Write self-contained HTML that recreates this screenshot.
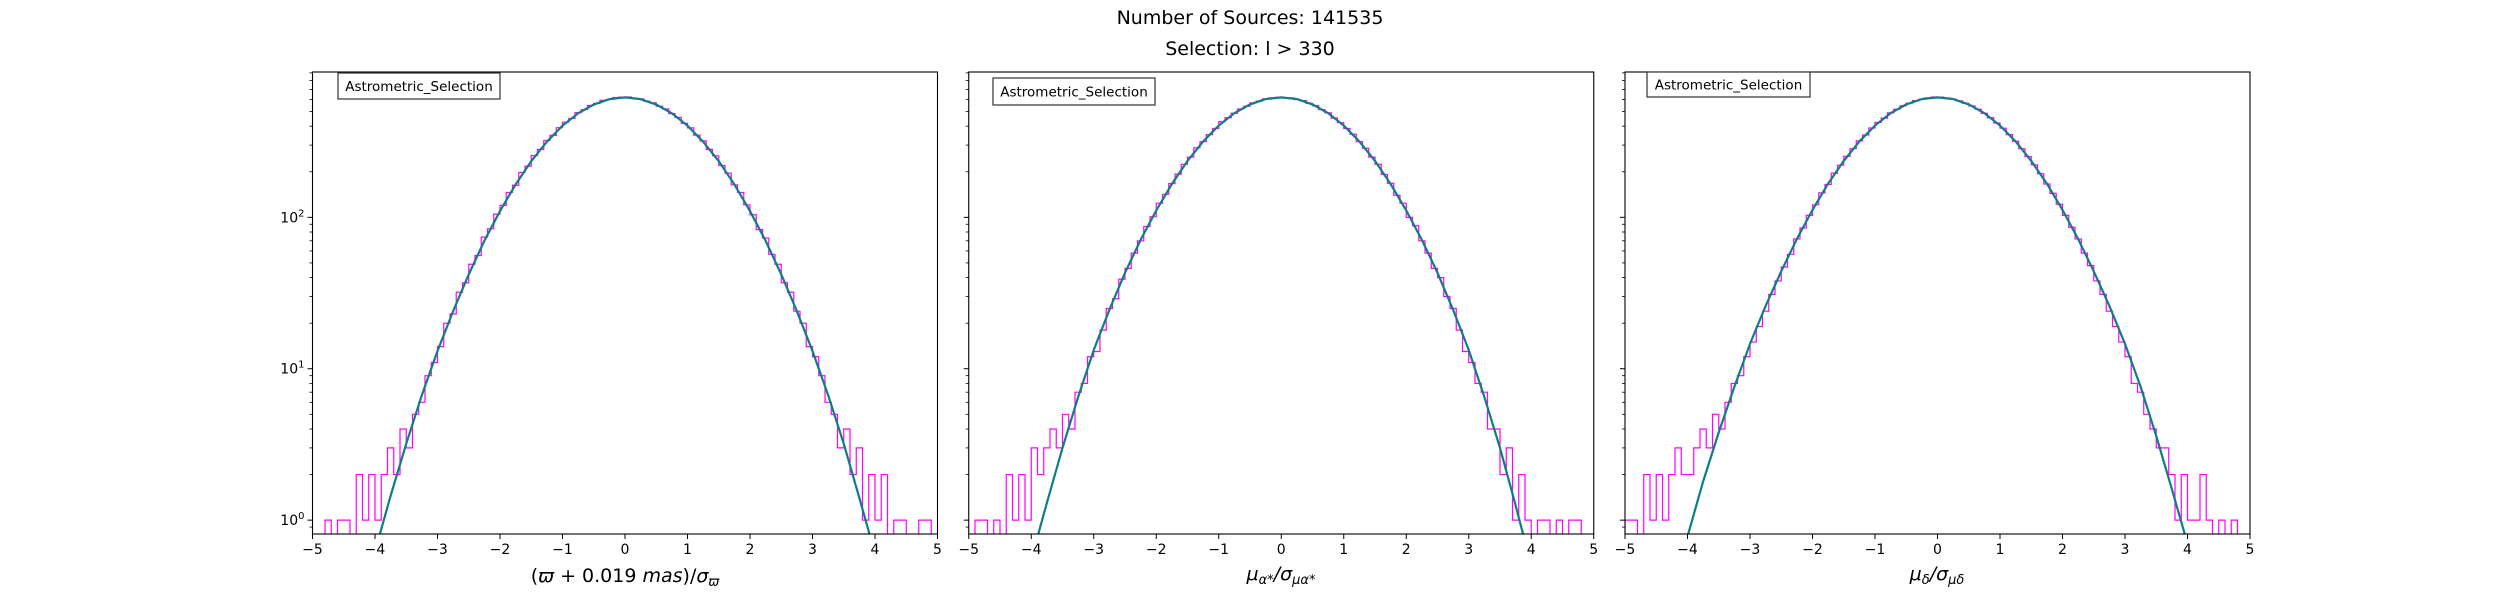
<!DOCTYPE html>
<html><head><meta charset="utf-8"><style>
html,body{margin:0;padding:0;background:#fff;width:2500px;height:600px;overflow:hidden}
svg{display:block;font-family:"DejaVu Sans","Liberation Sans",sans-serif}
</style></head><body>
<svg id="chart" width="2500" height="600" viewBox="0 0 2500 600" xmlns="http://www.w3.org/2000/svg">
<text x="1250" y="24" text-anchor="middle" font-size="19">Number of Sources: 141535</text>
<text x="1250" y="55" text-anchor="middle" font-size="19">Selection: l &gt; 330</text>
</svg>
<script>
// histogram bin starts: -5 to 4.9, width 0.1
const binStart = -5;
const binWidth = 0.1;
const counts1 = [0,0,1,0,1,1,0,2,1,2, 1,2,3,2,4,3,5,6,9,11, 14,20,23,32,37,49,56,74,84,105, 120,146,163,198,218,256,281,322,348,391, 425,450,492,515,548,566,592,600,618,622, 624,612,606,585,570,542,520,484,458,418, 390,349,320,281,255,220,196,164,146,121, 104,83,73,57,49,37,32,24,20,14, 12,9,6,5,3,4,2,3,1,2, 1,2,0,1,1,0,0,1,1,0];
const counts2 = [0,1,1,0,1,0,2,1,2,1, 3,2,3,4,3,5,4,7,8,12, 13,18,25,29,39,46,58,70,87,101, 124,142,167,193,224,250,288,316,352,386, 428,455,487,520,542,570,586,606,615,620, 618,616,600,590,566,546,515,490,452,422, 386,354,316,286,250,224,192,168,140,124, 100,88,70,58,46,40,30,25,18,13, 11,8,7,4,4,2,3,1,2,1, 0,1,1,0,1,0,1,1,0,0];
const counts3 = [1,1,0,2,1,2,1,2,3,2, 2,3,4,3,5,4,6,8,9,12, 15,19,24,31,38,47,57,72,85,103, 121,145,165,196,221,253,284,320,350,389, 424,452,490,518,546,568,590,603,616,624, 622,614,604,588,566,545,518,486,455,420, 388,352,318,284,252,222,194,166,144,122, 103,86,72,58,48,38,31,24,19,15, 12,8,7,5,4,3,3,2,1,2, 1,1,2,1,0,1,0,1,0,0];
// fitted curve, sampled at fitX
const fitX = [-4.5,-4.25,-4,-3.75,-3.5,-3.25,-3,-2.75,-2.5,-2.25,-2,-1.75,-1.5,-1.25,-1,-0.75,-0.5,-0.25,0,0.25,0.5,0.75,1,1.25,1.5,1.75,2,2.25,2.5,2.75,3,3.25,3.5,3.75,4,4.25,4.5];
const fit1 = [0.08,0.25,0.62,1.45,3.2,6.7,13.1,24,42,70,110,165,235,316,403,487,556,603,620,603,556,487,403,316,235,165,110,70,42,24,13.1,6.7,3.2,1.4,0.6,0.22,0.07];
const fit2 = [0.06,0.2,0.55,1.3,3.0,6.5,13.3,24.5,43,71,111,166,236,317,404,488,557,604,620,604,557,488,404,317,236,166,111,71,43,24.5,13.3,6.5,3.0,1.25,0.5,0.18,0.06];
const fit3 = [0.1,0.3,0.78,1.8,3.8,7.6,14.6,26,44,72,112,167,236,317,404,488,557,604,620,604,557,488,404,317,236,167,112,72,44,26,14.6,7.6,3.6,1.6,0.7,0.25,0.08];
const xTicks = [-5,-4,-3,-2,-1,0,1,2,3,4,5];
const yTickExps = [0,1,2];
const yMin = 0.81, yMax = 912;

const NS = 'http://www.w3.org/2000/svg';
const svgRoot = document.getElementById('chart');
function mk(tag, attrs, parent){ const e=document.createElementNS(NS,tag); for(const k in attrs) e.setAttribute(k,attrs[k]); (parent||svgRoot).appendChild(e); return e; }

const plotTop=72, plotBot=534;
const panels = [
  {x0:312.5, x1:937.5, counts:counts1, fit:fit1, leg:[338,73,162,26]},
  {x0:968.75, x1:1593.75, counts:counts2, fit:fit2, leg:[993,78,162,27]},
  {x0:1625, x1:2250, counts:counts3, fit:fit3, leg:[1647,72,163,25]}
];
function yScale(v){ const lv=Math.log10(Math.max(v,1e-3)); return plotBot - (lv-Math.log10(yMin))/(Math.log10(yMax)-Math.log10(yMin))*(plotBot-plotTop); }

panels.forEach((p,pi)=>{
  const xs = v => p.x0 + (v+5)/10*(p.x1-p.x0);
  const g = mk('g',{});
  
  
  const cid='clip'+pi;
  const cp = mk('clipPath',{id:cid},g); mk('rect',{x:p.x0,y:plotTop,width:p.x1-p.x0,height:plotBot-plotTop},cp);
  let d='', prevY=plotBot+5;
  p.counts.forEach((c,i)=>{
    const xa=xs(binStart+i*binWidth), xb=xs(binStart+(i+1)*binWidth);
    const yy = c>0 ? yScale(c) : plotBot+5;
    d += (i===0?'M':'L')+xa.toFixed(2)+','+prevY.toFixed(2)+'L'+xa.toFixed(2)+','+yy.toFixed(2)+'L'+xb.toFixed(2)+','+yy.toFixed(2);
    prevY=yy;
  });
  d += 'L'+xs(5).toFixed(2)+','+(plotBot+5);
  const h = mk('path',{d:d,fill:'none',stroke:'#ff00ff','stroke-width':1.2,'clip-path':'url(#'+cid+')'},g);
  
  
  const fd = fitX.map((x,i)=>(i?'L':'M')+xs(x).toFixed(2)+','+yScale(p.fit[i]).toFixed(2)).join('');
  const f = mk('path',{d:fd,fill:'none',stroke:'#0e7f7f','stroke-width':2.2,'clip-path':'url(#'+cid+')'},g);
  
  
  const fr = mk('rect',{x:p.x0,y:plotTop,width:p.x1-p.x0,height:plotBot-plotTop,fill:'none',stroke:'#000','stroke-width':1.1},g);
  
  
  xTicks.forEach(t=>{
    const x=xs(t);
    mk('line',{x1:x,x2:x,y1:plotBot,y2:plotBot+5,stroke:'#000','stroke-width':1},g);
    const tl = mk('text',{x:x,y:plotBot+20,'text-anchor':'middle','font-size':14},g);
    tl.textContent = (t<0?'\u2212':'')+Math.abs(t);
    
    
  });
  yTickExps.forEach(e=>{
    const y=yScale(Math.pow(10,e));
    mk('line',{x1:p.x0-5,x2:p.x0,y1:y,y2:y,stroke:'#000','stroke-width':1},g);
    if(pi===0){
      const yl = mk('text',{x:p.x0-8,y:y+5,'text-anchor':'end','font-size':14},g);
      yl.innerHTML = '10<tspan dy="-6" font-size="10">'+e+'</tspan>';
      
      
    }
  });
  for(let e=-1;e<3;e++) for(let m=2;m<10;m++){
    const v=m*Math.pow(10,e); if(v<yMin||v>yMax) continue;
    const y=yScale(v);
    mk('line',{x1:p.x0-3,x2:p.x0,y1:y,y2:y,stroke:'#000','stroke-width':0.8},g);
  }
  const lg = mk('g',{},g);
  
  
  mk('rect',{x:p.leg[0],y:p.leg[1],width:p.leg[2],height:p.leg[3],fill:'#fff',stroke:'#333','stroke-width':1.2},lg);
  const lt = mk('text',{x:p.leg[0]+p.leg[2]/2,y:p.leg[1]+p.leg[3]/2+5,'text-anchor':'middle','font-size':13.5},lg);
  lt.textContent='Astrometric_Selection';
});

const xl1 = mk('text',{x:625,y:582,'text-anchor':'middle','font-size':19});
xl1.innerHTML = '(<tspan font-style="italic">ϖ</tspan> + 0.019 <tspan font-style="italic">mas</tspan>)/<tspan font-style="italic">σ</tspan><tspan font-style="italic" font-size="13" dy="4">ϖ</tspan>';


const xl2 = mk('text',{x:1281,y:580,'text-anchor':'middle','font-size':19,'font-style':'italic'});
xl2.innerHTML = 'μ<tspan font-size="13" dy="4">α*</tspan><tspan dy="-4">/σ</tspan><tspan font-size="13" dy="4">μα*</tspan>';


const xl3 = mk('text',{x:1937,y:580,'text-anchor':'middle','font-size':19,'font-style':'italic'});
xl3.innerHTML = 'μ<tspan font-size="13" dy="4">δ</tspan><tspan dy="-4">/σ</tspan><tspan font-size="13" dy="4">μδ</tspan>';


</script>
</body></html>
